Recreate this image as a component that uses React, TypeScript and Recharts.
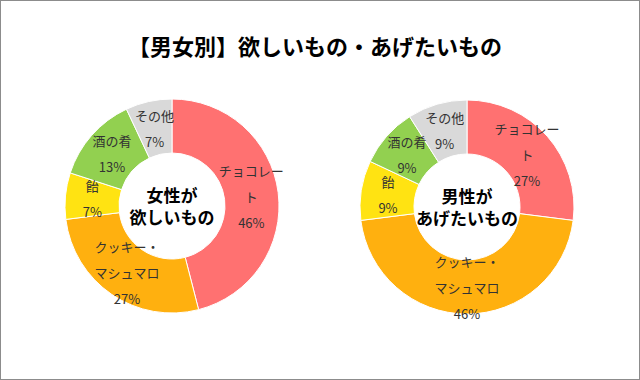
import { PieChart, Pie, Cell } from 'recharts';

// カテゴリ（12時から時計回り）
const categories = ['チョコレート', 'クッキー・マシュマロ', '飴', '酒の肴', 'その他'];
const colors = ['#FF7171', '#FFB00F', '#FFE312', '#92D050', '#D9D9D9'];

// 女性が欲しいもの (%)
const womenValues = [46, 27, 7, 13, 7];
// 男性があげたいもの (%)
const menValues = [27, 46, 9, 9, 9];

const womenData = categories.map((name, i) => ({ name, value: womenValues[i] }));
const menData = categories.map((name, i) => ({ name, value: menValues[i] }));

const FONT = '"Noto Sans CJK JP", "Noto Sans", sans-serif';
const RAD = Math.PI / 180;

// 5文字で折り返し
const wrap = (s: string) => {
  const out: string[] = [];
  for (let i = 0; i < s.length; i += 5) out.push(s.slice(i, i + 5));
  return out;
};

const renderLabel = (props: any) => {
  const { cx, cy, midAngle, innerRadius, outerRadius, name, value } = props;
  const r = (innerRadius + outerRadius) / 2;
  const x = cx + r * Math.cos(-midAngle * RAD);
  const y = cy + r * Math.sin(-midAngle * RAD);
  const lines = [...wrap(name), `${value}%`];
  const lh = 26;
  const y0 = y - ((lines.length - 1) * lh) / 2;
  return (
    <text x={x} y={y0} textAnchor="middle" dominantBaseline="central" fontSize={13} fill="#333" fontFamily={FONT}>
      {lines.map((t, i) => (
        <tspan key={i} x={x} y={y0 + i * lh}>{t}</tspan>
      ))}
    </text>
  );
};

const centerText = (left: number, top: number, l1: string, l2: string) => (
  <>
    <div style={{ position: 'absolute', left: left - 60, top: top - 22, width: 120, height: 21, textAlign: 'center', fontFamily: FONT, fontWeight: 700, fontSize: 17, lineHeight: '21px', color: '#000' }}>{l1}</div>
    <div style={{ position: 'absolute', left: left - 60, top: top, width: 120, height: 21, textAlign: 'center', fontFamily: FONT, fontWeight: 700, fontSize: 17, lineHeight: '21px', color: '#000' }}>{l2}</div>
  </>
);

export default function App() {
  return (
    <div style={{ position: 'absolute', left: 0, top: 0, width: 640, height: 380, background: '#fff' }}>
      <div style={{ position: 'absolute', left: 0, top: 0, width: 640, height: 380, boxSizing: 'border-box', border: '1px solid #8c8c8c' }} />
      <div style={{ position: 'absolute', left: 0, top: 30, width: 630, textAlign: 'center', fontFamily: FONT, fontWeight: 700, fontSize: 22, lineHeight: '30px', color: '#000' }}>
        【男女別】欲しいもの・あげたいもの
      </div>
      <PieChart width={640} height={380} margin={{ top: 0, right: 0, bottom: 0, left: 0 }} style={{ position: 'absolute', left: 0, top: 0 }}>
        <Pie
          data={womenData}
          dataKey="value"
          nameKey="name"
          cx={172}
          cy={206}
          innerRadius={53}
          outerRadius={107}
          startAngle={90}
          endAngle={-270}
          stroke="#fff"
          strokeWidth={1}
          label={renderLabel}
          labelLine={false}
          isAnimationActive={false}
        >
          {womenData.map((_, i) => <Cell key={i} fill={colors[i]} />)}
        </Pie>
        <Pie
          data={menData}
          dataKey="value"
          nameKey="name"
          cx={467}
          cy={207}
          innerRadius={53}
          outerRadius={107}
          startAngle={90}
          endAngle={-270}
          stroke="#fff"
          strokeWidth={1}
          label={renderLabel}
          labelLine={false}
          isAnimationActive={false}
        >
          {menData.map((_, i) => <Cell key={i} fill={colors[i]} />)}
        </Pie>
      </PieChart>
      {centerText(172, 206, '女性が', '欲しいもの')}
      {centerText(467, 207, '男性が', 'あげたいもの')}
    </div>
  );
}
